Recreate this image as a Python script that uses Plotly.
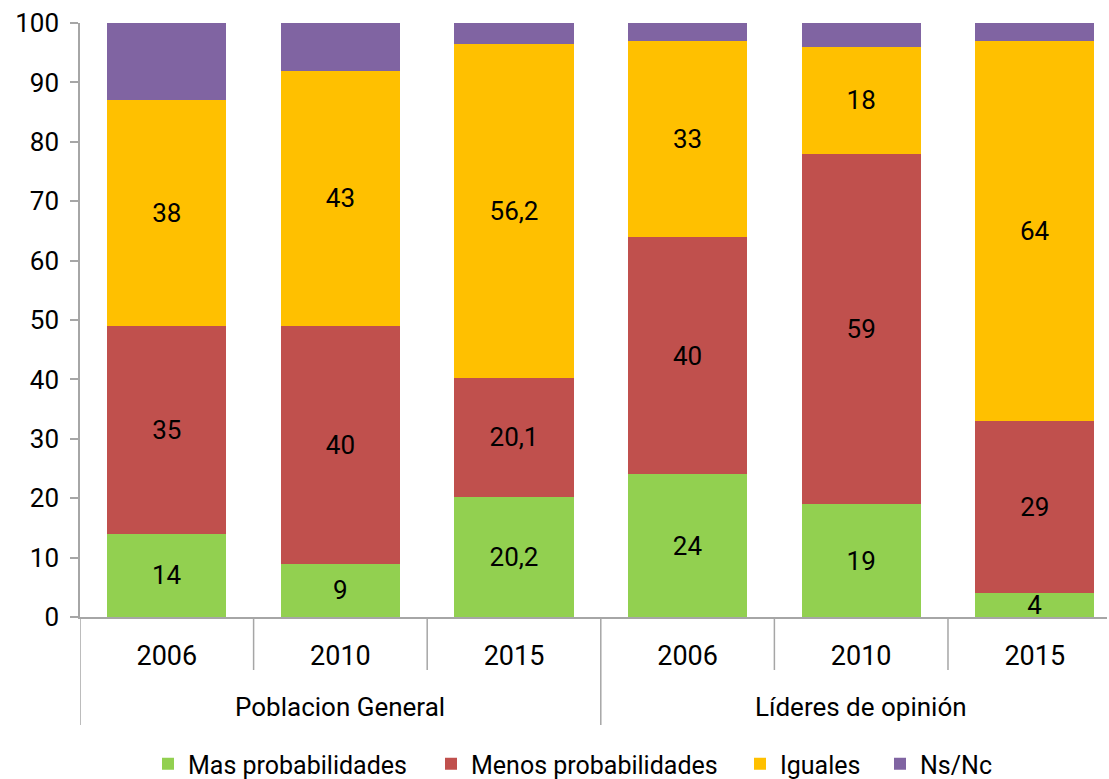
import plotly.graph_objects as go

groups = ["Poblacion General", "Líderes de opinión"]
years = ["2006", "2010", "2015", "2006", "2010", "2015"]
keys = ["PG 2006", "PG 2010", "PG 2015", "LO 2006", "LO 2010", "LO 2015"]

mas = [14, 9, 20.2, 24, 19, 4]
menos = [35, 40, 20.1, 40, 59, 29]
iguales = [38, 43, 56.2, 33, 18, 64]
nsnc = [13, 8, 3.5, 3, 4, 3]

mas_lbl = ["14", "9", "20,2", "24", "19", "4"]
menos_lbl = ["35", "40", "20,1", "40", "59", "29"]
iguales_lbl = ["38", "43", "56,2", "33", "18", "64"]

series = [
    ("Mas probabilidades", mas, mas_lbl, "#92D050"),
    ("Menos probabilidades", menos, menos_lbl, "#C0504D"),
    ("Iguales", iguales, iguales_lbl, "#FFC000"),
    ("Ns/Nc", nsnc, None, "#8064A2"),
]

AX = "#A6A6A6"
FIG_W = 1109
FIG_H = 779
TOP = 23
BOTTOM_AXIS = 617
PLOT_H = float(BOTTOM_AXIS - TOP)
LEGEND_TEXT_X = [188, 471, 780, 920]   # pixel start of each legend label
LEGEND_Y = 764

legend_ids = ["legend", "legend2", "legend3", "legend4"]

fig = go.Figure()
for (name, vals, lbls, col), lid in zip(series, legend_ids):
    fig.add_trace(go.Bar(
        name=name,
        x=keys,
        y=vals,
        legend=lid,
        marker=dict(color=col, line=dict(width=0)),
        text=lbls,
        texttemplate="%{text}" if lbls else None,
        textposition="inside" if lbls else "none",
        insidetextanchor="middle",
        textangle=0,
        constraintext="none",
        textfont=dict(family="Roboto", size=26, color="black"),
        hoverinfo="skip",
    ))

shapes = []
# inner dividers between years
for xb in [0.5, 1.5, 3.5, 4.5]:
    shapes.append(dict(type="line", xref="x", yref="paper", x0=xb, x1=xb,
                       y0=0, y1=-53 / PLOT_H, line=dict(color=AX, width=1.5)))
# group dividers
for xb in [-0.5, 2.5, 5.5]:
    shapes.append(dict(type="line", xref="x", yref="paper", x0=xb, x1=xb,
                       y0=0, y1=-108 / PLOT_H, line=dict(color=AX, width=1.5)))

annotations = []
for gi, g in enumerate(groups):
    annotations.append(dict(text=g, xref="x", yref="paper", x=1 + 3 * gi,
                            y=-90 / PLOT_H, xanchor="center", yanchor="middle",
                            showarrow=False,
                            font=dict(family="Roboto", size=26, color="black")))

legend_layouts = {}
for lid, tx in zip(legend_ids, LEGEND_TEXT_X):
    legend_layouts[lid] = dict(
        orientation="h",
        xref="container", yref="container",
        x=(tx - 40) / FIG_W, xanchor="left",
        y=1 - LEGEND_Y / FIG_H, yanchor="middle",
        bgcolor="rgba(0,0,0,0)",
        borderwidth=0,
        font=dict(family="Roboto", size=25, color="black"),
    )

fig.update_layout(
    barmode="stack",
    bargap=0.314,
    width=FIG_W,
    height=FIG_H,
    margin=dict(l=80, r=2, t=TOP, b=FIG_H - BOTTOM_AXIS),
    plot_bgcolor="white",
    paper_bgcolor="white",
    font=dict(family="Roboto", color="black"),
    shapes=shapes,
    annotations=annotations,
    showlegend=True,
    **legend_layouts,
    xaxis=dict(
        type="category",
        range=[-0.5, 5.416],
        automargin=False,
        showline=True,
        linecolor=AX,
        linewidth=1.5,
        ticks="",
        tickvals=keys,
        ticktext=years,
        ticklabelstandoff=14,
        tickfont=dict(family="Roboto", size=27, color="black"),
        showgrid=False,
    ),
    yaxis=dict(
        range=[0, 100],
        automargin=False,
        tickmode="array",
        tickvals=list(range(0, 101, 10)),
        showline=True,
        linecolor=AX,
        linewidth=1.5,
        ticks="outside",
        ticklen=8,
        tickcolor=AX,
        tickwidth=1.5,
        ticklabelstandoff=6,
        showgrid=False,
        zeroline=False,
        tickfont=dict(family="Roboto", size=26, color="black"),
    ),
)

page_fix = (
    "var g=document.getElementById('{plot_id}');"
    "document.documentElement.style.margin='0';"
    "document.body.style.margin='0';"
    "document.documentElement.style.overflow='hidden';"
    "document.body.style.overflow='hidden';"
    "g.style.position='fixed';g.style.left='0px';g.style.top='0px';"
)

fig.write_html(
    "out.html",
    config={"displayModeBar": False},
    post_script=page_fix,
)
